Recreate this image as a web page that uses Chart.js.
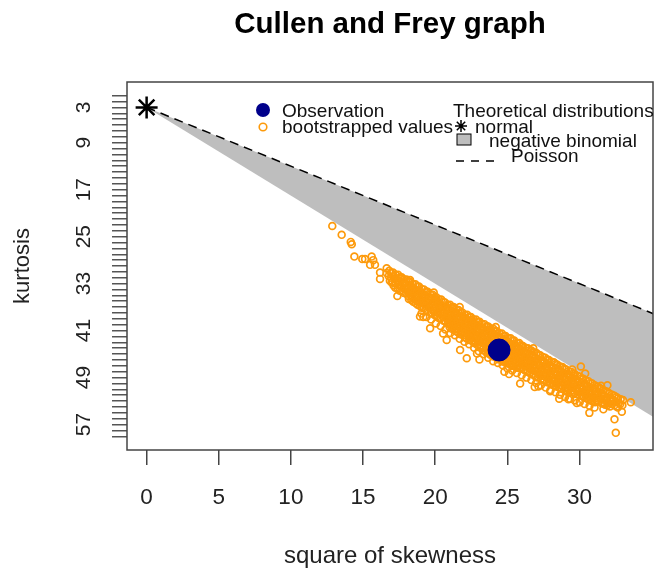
<!DOCTYPE html>
<html>
<head>
<meta charset="utf-8">
<title>Cullen and Frey graph</title>
<script src="https://cdn.jsdelivr.net/npm/chart.js@4.4.1/dist/chart.umd.min.js"></script>
<style>
  html, body { margin: 0; padding: 0; background: #fff; }
  canvas { display: block; }
</style>
</head>
<body>
<canvas id="cullenFrey" width="655" height="573"></canvas>
<script>
// observed sample
const obsSkew2 = [24.43];
const obsKurt = [44.3];

// theoretical distributions
const normalSkew2 = [0];
const normalKurt = [3];
const poissonSkew2 = [0, 40];
const poissonKurt = [3, 43];
const negbinLowSkew2 = [0, 40];
const negbinLowKurt = [3, 63];

// bootstrapped values: [square of skewness, kurtosis]
const bootValues = [
  [12.87,23.2],[13.52,24.7],[14.15,25.9],[14.22,26.3],[14.40,28.4],[14.95,28.8],[15.14,28.8],
  [15.60,28.4],[15.71,29.0],[15.49,29.8],[15.83,29.8],[16.18,31.1],[16.18,32.2],[16.64,30.4],[16.64,31.2],
  [19.18,38.7],[23.07,45.9],[25.12,48.4],[26.07,43.7],[30.10,47.1],[30.40,48.3],[31.94,50.3],
  [33.56,53.2],[30.69,55.0],[32.94,54.8],[32.43,56.1],[32.52,58.4],[31.66,54.4],[27.97,51.3],
  [29.24,52.7],[29.82,53.3],
  [17.68,32.1],[18.26,32.4],[19.42,34.4],[17.38,35.1],[20.11,35.8],[21.26,37.2],[22.54,39.2],
  [23.58,40.3],[29.13,51.4],[27.16,50.5],[25.89,50.0],[22.19,45.7],[21.73,44.3],[20.80,42.6],
  [19.65,40.6],[18.95,38.6],
  [19.90,34.5],[21.70,37.0],[24.20,40.4],[26.80,44.0],[29.50,47.6],[31.50,50.4],
  [20.55,41.5],[22.90,44.9],[24.80,48.0],[26.90,50.6],[28.60,52.6],
  [16.82,30.8],[16.78,31.7],[16.86,32.5],
  [17.08,31.1],[17.14,31.9],[17.05,32.7],[17.12,33.3],
  [17.43,31.5],[17.37,32.4],[17.45,33.1],[17.40,33.8],
  [17.68,31.9],[17.74,32.8],[17.66,33.5],[17.72,34.3],
  [18.02,32.3],[17.97,33.0],[18.05,33.9],[18.00,34.7],
  [18.28,32.7],[18.33,33.5],[18.26,34.2],[18.31,35.0],[18.35,35.8],
  [18.63,33.1],[18.57,33.9],[18.62,34.8],[18.58,35.5],[18.64,36.3],
  [18.88,33.5],[18.93,34.3],[18.86,35.1],[18.91,35.9],[18.95,36.8],
  [19.22,34.0],[19.17,34.8],[19.24,35.5],[19.19,36.4],[19.21,37.2],
  [19.48,34.4],[19.53,35.2],[19.47,36.1],[19.52,36.8],[19.49,37.7],
  [19.83,34.9],[19.77,35.6],[19.81,36.5],[19.84,37.3],[19.78,38.1],
  [20.08,35.3],[20.13,36.1],[20.06,36.9],[20.11,37.8],[20.14,38.5],
  [20.42,35.7],[20.37,36.6],[20.43,37.3],[20.38,38.1],[20.41,38.9],
  [20.68,36.2],[20.73,37.0],[20.66,37.9],[20.72,38.6],[20.69,39.4],
  [21.03,36.6],[20.97,37.4],[21.02,38.2],[20.98,39.0],[21.04,39.8],[21.00,40.4],
  [21.28,37.0],[21.33,37.8],[21.27,38.7],[21.31,39.4],[21.26,40.2],[21.32,40.8],
  [21.62,37.5],[21.57,38.3],[21.63,39.1],[21.58,39.9],[21.61,40.7],[21.59,41.3],
  [21.88,37.9],[21.93,38.7],[21.86,39.5],[21.92,40.4],[21.89,41.1],[21.94,41.8],
  [22.22,38.3],[22.17,39.1],[22.23,39.9],[22.18,40.8],[22.21,41.5],[22.16,42.3],
  [22.48,38.7],[22.53,39.5],[22.47,40.3],[22.52,41.2],[22.49,41.9],[22.54,42.7],
  [22.83,39.1],[22.77,39.9],[22.82,40.7],[22.78,41.6],[22.84,42.3],[22.79,43.2],
  [23.08,39.5],[23.13,40.3],[23.06,41.2],[23.12,41.9],[23.09,42.7],[23.14,43.6],
  [23.42,39.9],[23.37,40.7],[23.43,41.5],[23.38,42.4],[23.41,43.1],[23.36,43.9],[23.44,44.4],
  [23.68,40.3],[23.73,41.1],[23.67,41.9],[23.72,42.8],[23.69,43.5],[23.74,44.2],[23.66,44.8],
  [24.03,40.7],[23.97,41.5],[24.02,42.3],[23.98,43.2],[24.04,43.9],[24.00,44.6],[23.96,45.2],
  [24.28,41.1],[24.33,41.9],[24.26,42.8],[24.32,43.5],[24.29,44.3],[24.34,45.0],[24.27,45.6],
  [24.62,41.5],[24.57,42.3],[24.63,43.1],[24.58,43.9],[24.61,44.8],[24.56,45.4],[24.64,46.0],
  [24.88,41.9],[24.93,42.7],[24.87,43.5],[24.92,44.4],[24.89,45.1],[24.94,45.8],[24.86,46.3],
  [25.23,42.3],[25.17,43.1],[25.22,43.9],[25.18,44.7],[25.24,45.5],[25.20,46.2],[25.16,46.7],
  [25.48,42.7],[25.53,43.5],[25.46,44.4],[25.52,45.1],[25.49,45.9],[25.54,46.6],[25.47,47.0],
  [25.82,43.1],[25.77,43.9],[25.83,44.7],[25.78,45.5],[25.81,46.4],[25.76,47.0],[25.84,47.4],
  [26.08,43.6],[26.13,44.4],[26.07,45.2],[26.12,46.0],[26.09,46.8],[26.14,47.6],
  [26.43,44.0],[26.37,44.8],[26.42,45.7],[26.38,46.4],[26.44,47.2],[26.40,48.0],
  [26.68,44.4],[26.73,45.2],[26.66,46.0],[26.72,46.9],[26.69,47.6],[26.74,48.4],
  [27.02,44.8],[26.97,45.6],[27.03,46.4],[26.98,47.3],[27.01,48.0],[26.96,48.8],
  [27.28,45.2],[27.33,46.0],[27.27,46.9],[27.32,47.6],[27.29,48.4],[27.34,49.2],
  [27.62,45.6],[27.57,46.4],[27.63,47.2],[27.58,48.1],[27.61,48.8],[27.56,49.5],
  [27.88,46.0],[27.93,46.8],[27.87,47.7],[27.92,48.4],[27.89,49.2],[27.94,49.9],
  [28.23,46.4],[28.17,47.2],[28.22,48.0],[28.18,48.9],[28.24,49.6],[28.20,50.3],
  [28.48,46.8],[28.53,47.6],[28.47,48.4],[28.52,49.3],[28.49,50.0],[28.54,50.6],
  [28.82,47.2],[28.77,48.0],[28.83,48.9],[28.78,49.6],[28.81,50.4],[28.76,50.9],
  [29.08,47.6],[29.13,48.4],[29.07,49.2],[29.12,50.1],[29.09,50.8],[29.14,51.2],
  [29.43,48.0],[29.37,48.8],[29.42,49.7],[29.38,50.4],[29.44,51.2],
  [29.68,48.4],[29.73,49.2],[29.66,50.0],[29.72,50.9],[29.69,51.6],
  [30.02,48.8],[29.97,49.6],[30.03,50.4],[29.98,51.3],[30.01,52.0],
  [30.28,49.2],[30.33,50.0],[30.27,50.9],[30.32,51.6],[30.29,52.3],
  [30.62,49.6],[30.57,50.4],[30.63,51.2],[30.58,52.1],[30.61,52.7],
  [30.88,50.0],[30.93,50.8],[30.87,51.7],[30.92,52.4],[30.89,53.0],
  [31.22,50.5],[31.17,51.3],[31.23,52.1],[31.18,52.9],
  [31.48,50.9],[31.53,51.7],[31.47,52.6],[31.52,53.3],
  [31.82,51.3],[31.77,52.1],[31.83,52.9],[31.78,53.6],
  [32.08,51.7],[32.13,52.5],[32.07,53.4],[32.12,53.9],
  [32.42,52.1],[32.37,52.9],[32.43,53.7],
  [32.68,52.5],[32.73,53.3],[32.66,54.1],
  [33.02,52.8],[32.98,53.7],
  [16.96,31.2],[16.93,32.0],[16.98,32.8],
  [17.26,31.5],[17.22,32.3],[17.27,33.0],[17.24,33.7],
  [17.56,31.9],[17.53,32.7],[17.58,33.4],[17.54,34.2],
  [17.86,32.3],[17.83,33.1],[17.88,33.9],[17.84,34.6],
  [18.16,32.7],[18.13,33.5],[18.17,34.3],[18.14,35.1],[18.18,35.6],
  [18.46,33.1],[18.43,33.9],[18.47,34.7],[18.44,35.4],[18.48,36.1],
  [18.76,33.5],[18.73,34.3],[18.77,35.1],[18.74,35.9],[18.78,36.6],
  [19.06,33.9],[19.03,34.7],[19.07,35.5],[19.04,36.3],[19.08,37.1],
  [19.36,34.4],[19.33,35.2],[19.37,36.0],[19.34,36.8],[19.38,37.5],
  [19.66,34.8],[19.63,35.6],[19.67,36.4],[19.64,37.2],[19.68,38.0],
  [19.96,35.3],[19.93,36.1],[19.97,36.9],[19.94,37.7],[19.98,38.4],
  [20.26,35.7],[20.23,36.5],[20.27,37.3],[20.24,38.1],[20.28,38.9],
  [20.56,36.1],[20.53,36.9],[20.57,37.7],[20.54,38.5],[20.58,39.3],
  [20.86,36.6],[20.83,37.4],[20.87,38.2],[20.84,39.0],[20.88,39.8],
  [21.16,37.0],[21.13,37.8],[21.17,38.6],[21.14,39.4],[21.18,40.2],[21.15,40.7],
  [21.46,37.4],[21.43,38.2],[21.47,39.0],[21.44,39.8],[21.48,40.6],[21.45,41.1],
  [21.76,37.9],[21.73,38.7],[21.77,39.5],[21.74,40.3],[21.78,41.1],[21.75,41.6],
  [22.06,38.3],[22.03,39.1],[22.07,39.9],[22.04,40.7],[22.08,41.5],[22.05,42.1],
  [22.36,38.7],[22.33,39.5],[22.37,40.3],[22.34,41.1],[22.38,41.9],[22.35,42.6],
  [22.66,39.1],[22.63,39.9],[22.67,40.7],[22.64,41.5],[22.68,42.3],[22.65,43.0],
  [22.96,39.5],[22.93,40.3],[22.97,41.1],[22.94,41.9],[22.98,42.7],[22.95,43.5],
  [23.26,39.9],[23.23,40.7],[23.27,41.5],[23.24,42.3],[23.28,43.1],[23.25,43.9],
  [23.56,40.3],[23.53,41.1],[23.57,41.9],[23.54,42.7],[23.58,43.5],[23.55,44.2],[23.52,44.7],
  [23.86,40.7],[23.83,41.5],[23.87,42.3],[23.84,43.1],[23.88,43.9],[23.85,44.6],[23.82,45.1],
  [24.16,41.1],[24.13,41.9],[24.17,42.7],[24.14,43.5],[24.18,44.3],[24.15,45.0],[24.12,45.5],
  [24.46,41.5],[24.43,42.3],[24.47,43.1],[24.44,43.9],[24.48,44.7],[24.45,45.4],[24.42,45.9],
  [24.76,41.9],[24.73,42.7],[24.77,43.5],[24.74,44.3],[24.78,45.1],[24.75,45.8],[24.72,46.3],
  [25.06,42.3],[25.03,43.1],[25.07,43.9],[25.04,44.7],[25.08,45.5],[25.05,46.2],[25.02,46.6],
  [25.36,42.7],[25.33,43.5],[25.37,44.3],[25.34,45.1],[25.38,45.9],[25.35,46.5],[25.32,47.0],
  [25.66,43.1],[25.63,43.9],[25.67,44.7],[25.64,45.5],[25.68,46.3],[25.65,46.9],[25.62,47.3],
  [25.96,43.5],[25.93,44.3],[25.97,45.1],[25.94,45.9],[25.98,46.7],[25.95,47.4],
  [26.26,43.9],[26.23,44.7],[26.27,45.5],[26.24,46.3],[26.28,47.1],[26.25,47.8],
  [26.56,44.3],[26.53,45.1],[26.57,45.9],[26.54,46.7],[26.58,47.5],[26.55,48.2],
  [26.86,44.7],[26.83,45.5],[26.87,46.3],[26.84,47.1],[26.88,47.9],[26.85,48.6],
  [27.16,45.1],[27.13,45.9],[27.17,46.7],[27.14,47.5],[27.18,48.3],[27.15,49.0],
  [27.46,45.5],[27.43,46.3],[27.47,47.1],[27.44,47.9],[27.48,48.7],[27.45,49.4],
  [27.76,45.9],[27.73,46.7],[27.77,47.5],[27.74,48.3],[27.78,49.1],[27.75,49.8],
  [28.06,46.3],[28.03,47.1],[28.07,47.9],[28.04,48.7],[28.08,49.5],[28.05,50.1],
  [28.36,46.7],[28.33,47.5],[28.37,48.3],[28.34,49.1],[28.38,49.9],[28.35,50.5],
  [28.66,47.1],[28.63,47.9],[28.67,48.7],[28.64,49.5],[28.68,50.3],[28.65,50.8],
  [28.96,47.5],[28.93,48.3],[28.97,49.1],[28.94,49.9],[28.98,50.7],[28.95,51.1],
  [29.26,47.9],[29.23,48.7],[29.27,49.5],[29.24,50.3],[29.28,51.0],
  [29.56,48.3],[29.53,49.1],[29.57,49.9],[29.54,50.7],[29.58,51.4],
  [29.86,48.7],[29.83,49.5],[29.87,50.3],[29.84,51.1],[29.88,51.8],
  [30.16,49.1],[30.13,49.9],[30.17,50.7],[30.14,51.5],[30.18,52.1],
  [30.46,49.5],[30.43,50.3],[30.47,51.1],[30.44,51.9],[30.48,52.5],
  [30.76,49.9],[30.73,50.7],[30.77,51.5],[30.74,52.3],[30.78,52.9],
  [31.06,50.3],[31.03,51.1],[31.07,51.9],[31.04,52.6],[31.08,53.2],
  [31.36,50.7],[31.33,51.5],[31.37,52.3],[31.34,53.0],
  [31.66,51.1],[31.63,51.9],[31.67,52.7],[31.64,53.4],
  [31.96,51.5],[31.93,52.3],[31.97,53.1],[31.94,53.7],
  [32.26,51.9],[32.23,52.7],[32.27,53.5],
  [32.56,52.3],[32.53,53.1],[32.57,53.9],
  [32.86,52.7],[32.83,53.5],
  [19.05,38.1],[19.40,38.7],[19.72,39.1],[20.05,39.8],[20.38,40.2],[20.71,40.8],[21.05,41.4],
  [21.37,41.8],[21.70,42.4],[22.03,42.9],[22.36,43.3],[22.70,43.9],[23.02,44.5],[23.35,45.0],
  [23.68,45.6],[24.02,46.2],[24.35,46.5],[24.68,46.9],[25.00,47.4],[25.34,47.8],[25.66,48.2],
  [26.00,48.6],[26.33,49.0],[26.67,49.4],[27.00,49.9],[27.33,50.3],[27.66,50.7],[28.00,51.1],
  [28.34,51.5],[28.66,51.9],[29.00,52.3],[29.35,52.6],[29.68,52.9],[30.02,53.2],[30.36,53.5],
  [30.70,53.8],[31.05,54.1]
];

// axis ticks
const xTicks = [0, 5, 10, 15, 20, 25, 30];
const yLabels = [3, 9, 17, 25, 33, 41, 49, 57];
const yTickFirst = 1;
const yTickLast = 59;

const FONT = "'Liberation Sans', Arial, Helvetica, sans-serif";
const ORANGE = '#fd9a0b';
const NAVY = '#00008b';
const GREY = '#bebebe';

function toPoints(xs, ys) {
    return xs.map((x, i) => ({ x: x, y: ys[i] }));
}

// titre, cadre et légendes dessinés à la main (comme R)
const framePlugin = {
    id: 'frame',
    afterDraw(chart) {
        const ctx = chart.ctx;
        const a = chart.chartArea;
        ctx.save();

        ctx.fillStyle = '#000';
        ctx.font = 'bold 29.5px ' + FONT;
        ctx.textAlign = 'center';
        ctx.textBaseline = 'alphabetic';
        ctx.fillText('Cullen and Frey graph', (a.left + a.right) / 2, 33);

        ctx.strokeStyle = '#444';
        ctx.lineWidth = 1.5;
        ctx.strokeRect(a.left, a.top, a.right - a.left, a.bottom - a.top);

        ctx.beginPath();
        ctx.rect(a.left, a.top, a.right - a.left, a.bottom - a.top);
        ctx.clip();

        // légende gauche
        const lx = a.left + 136;
        ctx.fillStyle = NAVY;
        ctx.beginPath();
        ctx.arc(lx, a.top + 28, 7, 0, Math.PI * 2);
        ctx.fill();
        ctx.strokeStyle = ORANGE;
        ctx.lineWidth = 1.6;
        ctx.beginPath();
        ctx.arc(lx, a.top + 45, 3.8, 0, Math.PI * 2);
        ctx.stroke();

        ctx.fillStyle = '#111';
        ctx.font = '19px ' + FONT;
        ctx.textAlign = 'left';
        ctx.fillText('Observation', a.left + 155, a.top + 35);
        ctx.fillText('bootstrapped values', a.left + 155, a.top + 51);

        // légende droite
        const rx = a.left + 326;
        ctx.fillText('Theoretical distributions', rx, a.top + 35);
        ctx.fillText('normal', rx + 22, a.top + 51);
        ctx.fillText('negative binomial', rx + 36, a.top + 65);
        ctx.fillText('Poisson', rx + 58, a.top + 80);

        ctx.strokeStyle = '#000';
        ctx.lineWidth = 1.5;
        const sx = rx + 8, sy = a.top + 44, sr = 6;
        ctx.beginPath();
        ctx.moveTo(sx - sr, sy); ctx.lineTo(sx + sr, sy);
        ctx.moveTo(sx, sy - sr); ctx.lineTo(sx, sy + sr);
        ctx.moveTo(sx - sr * 0.7, sy - sr * 0.7); ctx.lineTo(sx + sr * 0.7, sy + sr * 0.7);
        ctx.moveTo(sx - sr * 0.7, sy + sr * 0.7); ctx.lineTo(sx + sr * 0.7, sy - sr * 0.7);
        ctx.stroke();

        ctx.fillStyle = GREY;
        ctx.fillRect(rx + 4, a.top + 52, 14, 11);
        ctx.lineWidth = 1;
        ctx.strokeRect(rx + 4, a.top + 52, 14, 11);

        ctx.lineWidth = 1.5;
        ctx.setLineDash([8, 7]);
        ctx.beginPath();
        ctx.moveTo(rx + 3, a.top + 79);
        ctx.lineTo(rx + 41, a.top + 79);
        ctx.stroke();

        ctx.restore();
    }
};

function createChart() {
    const ctx = document.getElementById('cullenFrey').getContext('2d');

    new Chart(ctx, {
        type: 'scatter',
        data: {
            datasets: [
                {
                    label: 'normal',
                    data: toPoints(normalSkew2, normalKurt),
                    pointStyle: 'star',
                    pointRadius: 11,
                    borderColor: '#000',
                    borderWidth: 2.5
                },
                {
                    label: 'Observation',
                    data: toPoints(obsSkew2, obsKurt),
                    pointRadius: 11,
                    backgroundColor: NAVY,
                    borderColor: NAVY,
                    borderWidth: 1
                },
                {
                    label: 'bootstrapped values',
                    data: bootValues.map(v => ({ x: v[0], y: v[1] })),
                    pointRadius: 3.4,
                    borderWidth: 1.7,
                    borderColor: ORANGE,
                    backgroundColor: 'rgba(0,0,0,0)'
                },
                {
                    type: 'line',
                    label: 'Poisson',
                    data: toPoints(poissonSkew2, poissonKurt),
                    borderColor: '#000',
                    borderWidth: 1.5,
                    borderDash: [9, 6],
                    pointRadius: 0,
                    fill: false
                },
                {
                    type: 'line',
                    label: 'negative binomial',
                    data: toPoints(negbinLowSkew2, negbinLowKurt),
                    borderColor: 'rgba(0,0,0,0)',
                    borderWidth: 1,
                    pointRadius: 0,
                    backgroundColor: GREY,
                    fill: 3
                }
            ]
        },
        options: {
            responsive: false,
            animation: false,
            layout: { autoPadding: false, padding: { top: 82, right: 2, left: 0, bottom: 0 } },
            plugins: {
                legend: { display: false },
                tooltip: { enabled: false }
            },
            scales: {
                x: {
                    type: 'linear',
                    min: -1.36,
                    max: 35.1,
                    afterBuildTicks: s => { s.ticks = xTicks.map(v => ({ value: v })); },
                    afterFit: s => {
                        s.height = 123;
                        s.paddingLeft = 0;
                        s.paddingRight = 0;
                    },
                    grid: { drawOnChartArea: false, drawTicks: true, tickLength: 15, color: '#444', lineWidth: 1.5 },
                    border: { display: false },
                    ticks: { autoSkip: false, maxRotation: 0, color: '#222', padding: 19, font: { family: FONT, size: 22.5 } },
                    title: {
                        display: true,
                        text: 'square of skewness',
                        color: '#222',
                        font: { family: FONT, size: 24 },
                        padding: { top: 0, bottom: 2 }
                    }
                },
                y: {
                    type: 'linear',
                    reverse: true,
                    min: -1.32,
                    max: 61.32,
                    afterBuildTicks: s => {
                        const t = [];
                        for (let v = yTickFirst; v <= yTickLast; v++) t.push({ value: v });
                        s.ticks = t;
                    },
                    afterFit: s => {
                        s.width = 127;
                        s.paddingTop = 0;
                        s.paddingBottom = 0;
                    },
                    grid: { drawOnChartArea: false, drawTicks: true, tickLength: 15, color: '#555', lineWidth: 1.5 },
                    border: { display: false },
                    ticks: {
                        autoSkip: false,
                        minRotation: 90,
                        maxRotation: 90,
                        crossAlign: 'center',
                        padding: 16,
                        color: '#222',
                        font: { family: FONT, size: 21 },
                        callback: v => yLabels.includes(v) ? String(v) : ''
                    },
                    title: {
                        display: true,
                        text: 'kurtosis',
                        color: '#222',
                        font: { family: FONT, size: 22 },
                        padding: { top: 10, bottom: 0 }
                    }
                }
            }
        },
        plugins: [framePlugin]
    });
}

window.onload = createChart;
</script>
</body>
</html>
